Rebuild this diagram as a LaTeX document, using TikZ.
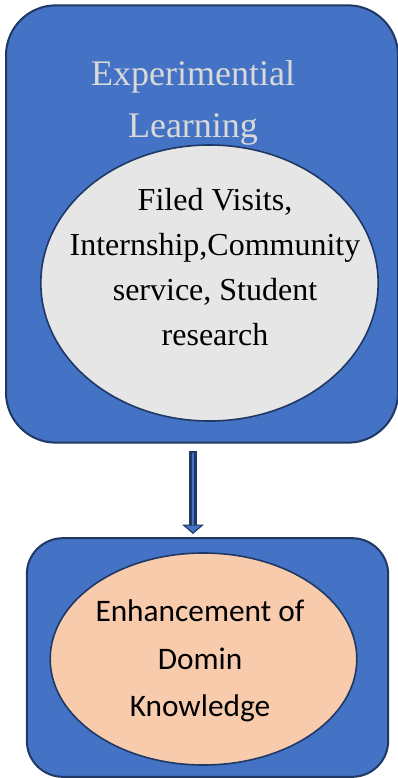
\documentclass[tikz,border=0pt]{standalone}
\usepackage{fontspec}
\setmainfont{Liberation Serif}
\newfontfamily\calib{Carlito}
\usetikzlibrary{arrows.meta,shapes.geometric}
\definecolor{boxblue}{HTML}{4472C4}
\definecolor{navy}{HTML}{1F3864}
\definecolor{lightgrey}{HTML}{E6E6E6}
\definecolor{peach}{HTML}{F8CBAD}
\definecolor{titlegrey}{HTML}{D9D9D9}
\tikzset{
  outerbox/.style={draw=navy, fill=boxblue, line width=1.5pt},
  innerell/.style={ellipse, draw=navy, line width=1.2pt, inner sep=0pt},
}
\begin{document}
\begin{tikzpicture}[x=0.75pt,y=-0.75pt]
\useasboundingbox (0,0) rectangle (398,778);
% top box
\node[outerbox, rounded corners=37.5pt, minimum width=294pt, minimum height=328pt, inner sep=0pt] (top) at (202,224) {};
\node[font=\fontsize{27}{39}\selectfont, text=titlegrey, align=center] (title) at (193,103) {Experimential\\Learning};
\node[innerell, fill=lightgrey, minimum width=253pt, minimum height=207pt] (ell1) at (209.5,283) {};
\node[font=\fontsize{24}{33.75}\selectfont, align=center] (t1) at (215,267) {Filed Visits,\\Internship,Community\\service, Student\\research};
% bottom box
\node[outerbox, rounded corners=27pt, minimum width=271pt, minimum height=179pt, inner sep=0pt] (bot) at (207.5,657.5) {};
\node[innerell, fill=peach, minimum width=230pt, minimum height=159pt] (ell2) at (203.5,659) {};
\node[font=\calib\fontsize{23.5}{35.6}\selectfont, align=center] (t2) at (200,661) {Enhancement of\\Domin\\Knowledge};
% arrow
\coordinate (as) at (193,451);
\coordinate (ae) at (193,534);
\draw[draw=navy, line width=5.5pt, -{Triangle[width=16pt,length=7pt,line width=0.8pt,fill=boxblue]}] (as) -- (ae);
\draw[draw=boxblue, line width=2.2pt, shorten >=7pt] ([yshift=-1.5pt]as) -- (ae);
\end{tikzpicture}
\end{document}
